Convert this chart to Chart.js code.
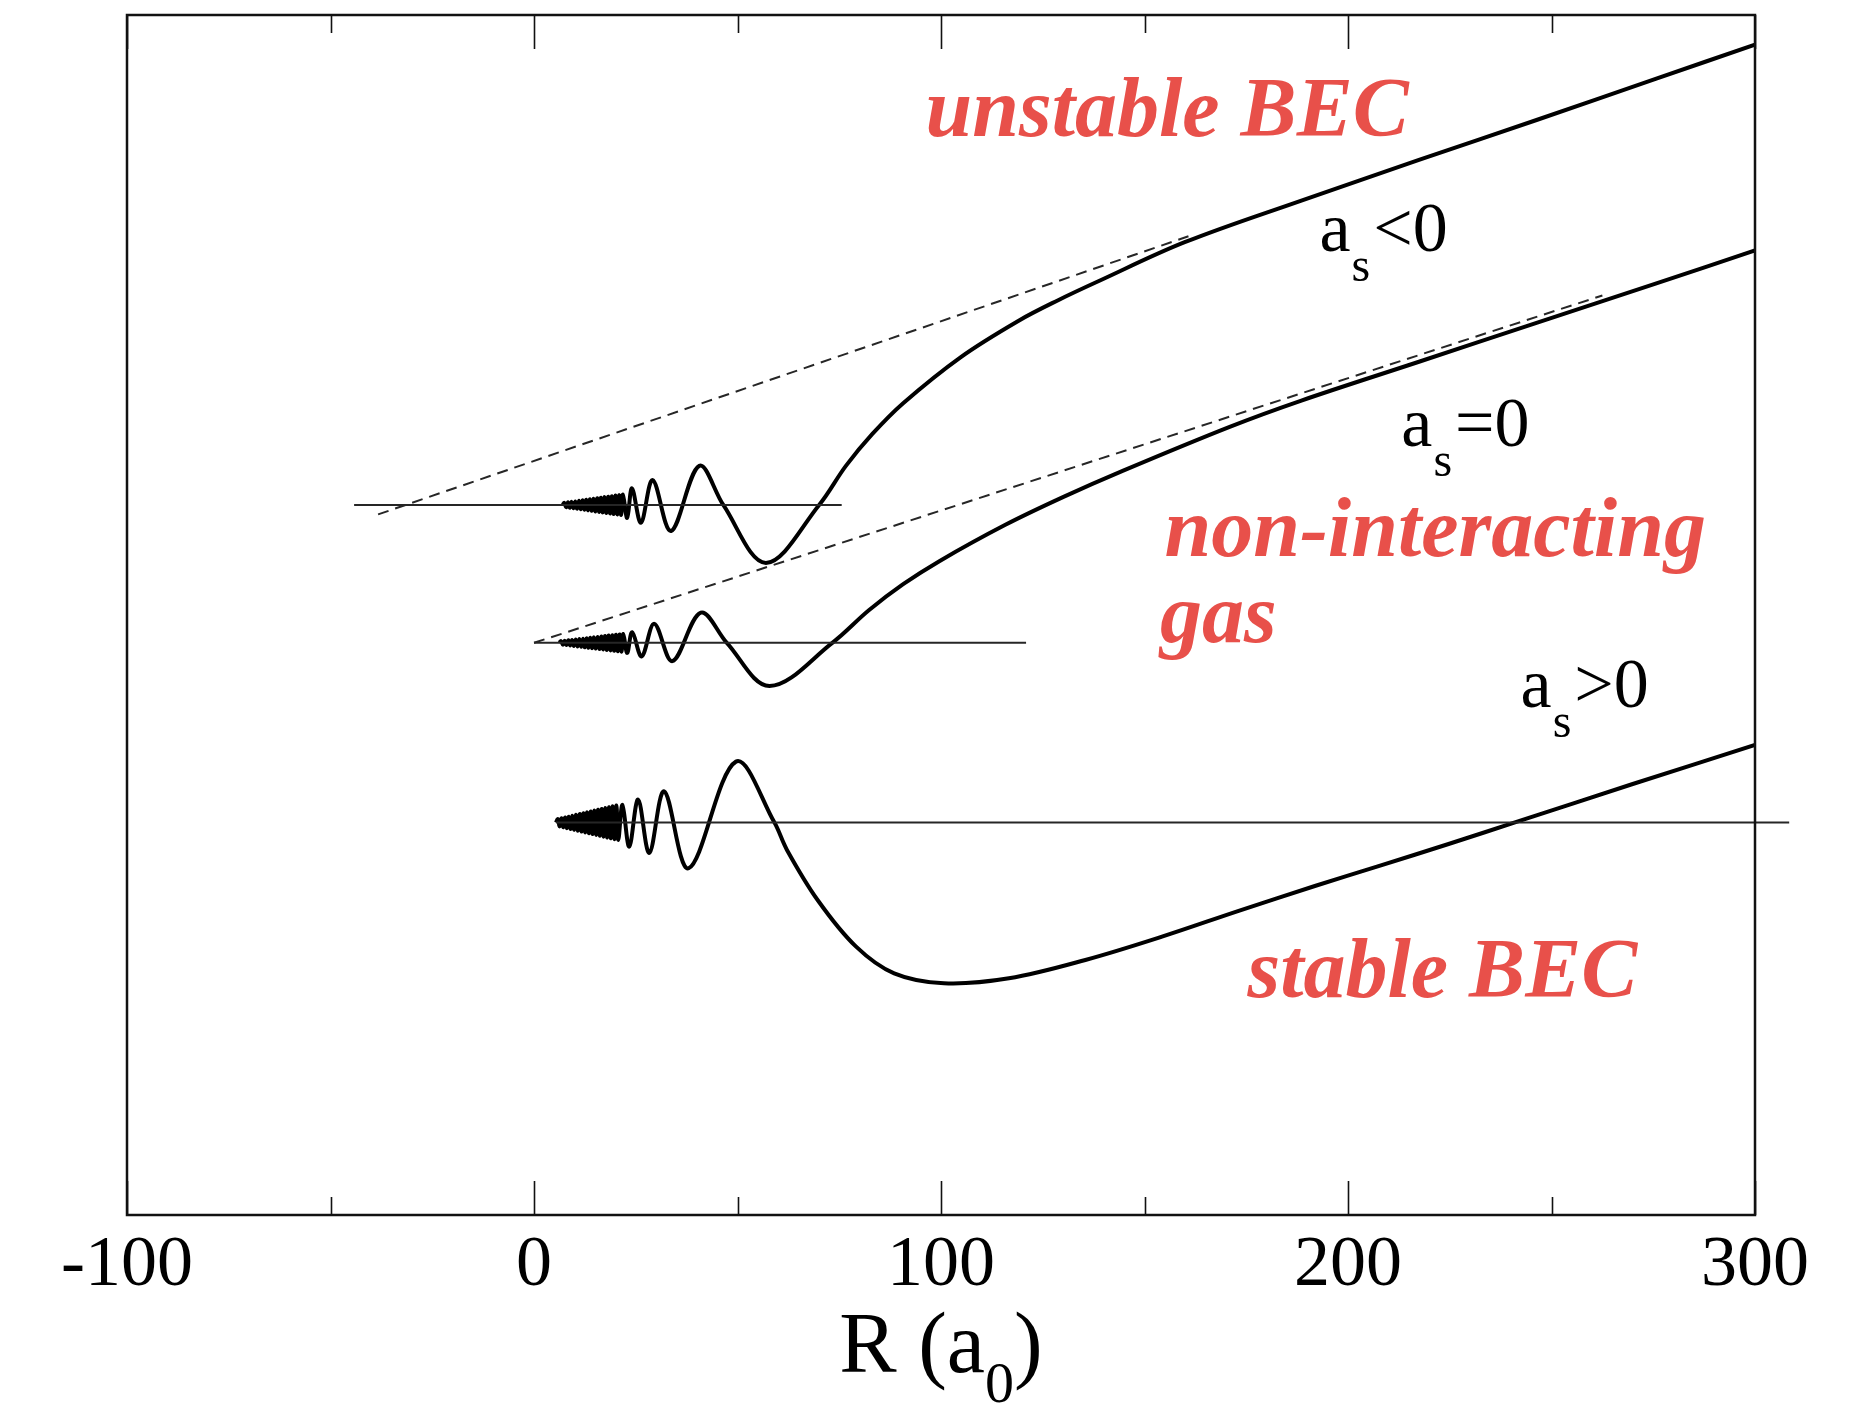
<!DOCTYPE html>
<html>
<head>
<meta charset="utf-8">
<script src="https://cdn.jsdelivr.net/npm/chart.js@4.4.0/dist/chart.umd.min.js"></script>
<style>
  html, body { margin: 0; padding: 0; background: #fff; }
  #wrap { width: 1855px; height: 1407px; }
</style>
</head>
<body>
<div id="wrap"><canvas id="chart" width="1855" height="1407"></canvas></div>
<script>
// x = R in units of a0; y has no ticks in the figure, so it is an arbitrary offset scale
const xTickValues = [-100, 0, 100, 200, 300];

// a_s < 0 (unstable BEC)
const rUnstable = [7.00, 7.45, 7.90, 8.35, 8.80, 9.25, 9.70, 10.15, 10.60, 11.05, 11.50, 11.95, 12.40, 12.85, 13.30, 13.75, 14.20,
  14.65, 15.10, 15.55, 16.00, 16.45, 16.90, 17.35, 17.80, 18.25, 18.70, 19.15, 19.60, 20.05, 20.50, 20.95, 21.40, 21.85,
  22.90, 24.07, 26.28, 29.16, 33.66, 40.61, 46.51, 56.98, 70.06, 76.63, 83.14, 90.70, 104.88, 118.98, 128.78, 138.66, 159.88,
  188.37, 217.44, 246.51, 275.58, 300];
const vUnstable = [60.0, 60.17, 59.81, 60.22, 59.76, 60.26, 59.72, 60.30, 59.67, 60.35, 59.63, 60.39, 59.59, 60.44, 59.54, 60.48, 59.50,
  60.52, 59.45, 60.57, 59.41, 60.61, 59.37, 60.66, 59.32, 60.70, 59.28, 60.74, 59.23, 60.79, 59.19, 60.83, 59.15, 60.88,
  58.9, 61.4, 58.5, 62.1, 57.8, 63.3, 60.0, 55.1, 60.0, 63.3, 66.0, 68.6, 72.5, 75.55, 77.3, 78.9, 82.2,
  85.7, 89.15, 92.55, 96.0, 98.9];
const rUnstableBase = [-44.2, 75.6];
const vUnstableBase = [60.0, 60.0];
const rUnstableAsym = [-38.3, 160.8];
const vUnstableAsym = [59.2, 82.7];

// a_s = 0 (non-interacting gas)
const rFree = [6.20, 6.65, 7.10, 7.55, 8.00, 8.45, 8.90, 9.35, 9.80, 10.25, 10.70, 11.15, 11.60, 12.05, 12.50, 12.95, 13.40, 13.85,
  14.30, 14.75, 15.20, 15.65, 16.10, 16.55, 17.00, 17.45, 17.90, 18.35, 18.80, 19.25, 19.70, 20.15, 20.60, 21.05, 21.50, 21.95,
  22.90, 24.13, 26.45, 29.56, 34.01, 40.99, 47.38, 57.85, 73.37, 82.27, 90.70, 99.59, 115.70, 130.23, 144.77, 170.93,
  188.37, 217.44, 246.51, 275.58, 300];
const vFree = [48.35, 48.49, 48.19, 48.52, 48.16, 48.56, 48.12, 48.59, 48.08, 48.63, 48.04, 48.67, 48.01, 48.70, 47.97, 48.74, 47.93, 48.77,
  47.90, 48.81, 47.86, 48.85, 47.82, 48.88, 47.79, 48.92, 47.75, 48.96, 47.71, 48.99, 47.68, 49.03, 47.64, 49.06, 47.60, 49.10,
  47.5, 49.25, 47.2, 49.95, 46.8, 50.9, 48.35, 44.7, 48.37, 51.1, 53.3, 55.25, 58.3, 60.7, 62.9, 66.6,
  68.8, 72.1, 75.4, 78.7, 81.5];
const rFreeBase = [0, 120.9];
const vFreeBase = [48.35, 48.35];
const rFreeAsym = [0, 262.5];
const vFreeAsym = [48.35, 77.7];

// a_s > 0 (stable BEC)
const rStable = [5.41, 5.86, 6.31, 6.76, 7.21, 7.66, 8.11, 8.56, 9.01, 9.46, 9.91, 10.36, 10.81, 11.26, 11.71, 12.16, 12.61, 13.06,
  13.51, 13.96, 14.41, 14.86, 15.31, 15.76, 16.21, 16.66, 17.11, 17.56, 18.01, 18.46, 18.91, 19.36, 19.81, 20.26, 20.71,
  21.74, 23.40, 25.58, 28.34, 31.98, 37.99, 49.62, 59.01, 62.15, 69.68, 79.07, 88.49, 100.73, 116.69, 135.47, 154.30, 173.14,
  191.86, 207.70, 224.71, 242.15, 269.77, 300];
const vStable = [33.16, 33.45, 32.84, 33.52, 32.77, 33.59, 32.69, 33.66, 32.62, 33.73, 32.55, 33.81, 32.48, 33.88, 32.41, 33.95, 32.33, 34.02,
  32.26, 34.09, 32.19, 34.17, 32.12, 34.24, 32.05, 34.31, 31.97, 34.38, 31.90, 34.45, 31.83, 34.53, 31.76, 34.60, 31.69,
  34.65, 31.13, 35.1, 30.6, 35.8, 29.3, 38.31, 33.2, 30.85, 26.62, 22.7, 20.42, 19.58, 20.0, 21.55, 23.52, 25.7,
  27.8, 29.5, 31.35, 33.3, 36.4, 39.72];
const rStableBase = [5.41, 308.4];
const vStableBase = [33.16, 33.16];

const serif = '"Liberation Serif", "Times New Roman", serif';
const red = '#e8504a';

// annotations, anchored in data coordinates (left edge, baseline)
const redLabels = [
  { text: 'unstable BEC', r: 96.2, v: 91.2 },
  { text: 'non-interacting', r: 154.9, v: 55.7 },
  { text: 'gas', r: 153.8, v: 48.4 },
  { text: 'stable BEC', r: 175.3, v: 18.4 },
];
const scatLabels = [
  { rel: '<0', r: 193.0, v: 81.5 },
  { rel: '=0', r: 213.1, v: 65.0 },
  { rel: '>0', r: 242.4, v: 42.9 },
];

const pts = (xs, ys) => xs.map((x, i) => ({ x, y: ys[i] }));

const solid = (data) => ({
  data, borderColor: '#000', borderWidth: 4, pointRadius: 0, showLine: true, tension: 0.35,
});
const thin = (data, extra) => Object.assign({
  data, borderColor: '#262626', borderWidth: 1.9, pointRadius: 0, showLine: true,
}, extra || {});

const decorations = {
  id: 'decorations',
  afterDraw(chart) {
    const { ctx, chartArea: a, scales: { x, y } } = chart;
    ctx.save();
    ctx.strokeStyle = '#111';
    ctx.lineWidth = 2.5;
    ctx.strokeRect(a.left, a.top, a.right - a.left, a.bottom - a.top);

    // inward tick marks on bottom and top: long at labelled values, short in between
    ctx.lineWidth = 1.6;
    x.ticks.forEach((t) => {
      const px = Math.round(x.getPixelForValue(t.value)) + 0.5;
      const len = t.value % 100 === 0 ? 34 : 18;
      ctx.beginPath();
      ctx.moveTo(px, a.bottom); ctx.lineTo(px, a.bottom - len);
      ctx.moveTo(px, a.top); ctx.lineTo(px, a.top + len);
      ctx.stroke();
    });

    ctx.textAlign = 'left';
    ctx.textBaseline = 'alphabetic';
    ctx.fillStyle = red;
    ctx.font = 'italic bold 84px ' + serif;
    redLabels.forEach((l) => {
      ctx.fillText(l.text, x.getPixelForValue(l.r), y.getPixelForValue(l.v));
    });

    ctx.fillStyle = '#000';
    scatLabels.forEach((l) => {
      let px = x.getPixelForValue(l.r);
      const py = y.getPixelForValue(l.v);
      ctx.font = '70px ' + serif;
      ctx.fillText('a', px, py);
      px += ctx.measureText('a').width;
      ctx.font = '48px ' + serif;
      ctx.fillText('s', px + 1, py + 30);
      px += ctx.measureText('s').width + 4;
      ctx.font = '70px ' + serif;
      ctx.fillText(l.rel, px, py);
    });

    // axis title R (a0) with subscript
    const cx = (a.left + a.right) / 2;
    const by = 1372;
    ctx.font = '86px ' + serif;
    const w1 = ctx.measureText('R (a').width;
    const w3 = ctx.measureText(')').width;
    ctx.font = '58px ' + serif;
    const w2 = ctx.measureText('0').width;
    let sx = cx - (w1 + w2 + w3) / 2;
    ctx.font = '86px ' + serif;
    ctx.fillText('R (a', sx, by);
    sx += w1;
    ctx.font = '58px ' + serif;
    ctx.fillText('0', sx, by + 30);
    sx += w2;
    ctx.font = '86px ' + serif;
    ctx.fillText(')', sx, by);
    ctx.restore();
  },
};

new Chart(document.getElementById('chart'), {
  type: 'scatter',
  data: {
    datasets: [
      thin(pts(rUnstableBase, vUnstableBase)),
      thin(pts(rFreeBase, vFreeBase)),
      thin(pts(rStableBase, vStableBase), { clip: false }),
      thin(pts(rUnstableAsym, vUnstableAsym), { borderDash: [11, 7], borderWidth: 2 }),
      thin(pts(rFreeAsym, vFreeAsym), { borderDash: [11, 7], borderWidth: 2 }),
      solid(pts(rUnstable, vUnstable)),
      solid(pts(rFree, vFree)),
      solid(pts(rStable, vStable)),
    ],
  },
  options: {
    responsive: false,
    animation: false,
    devicePixelRatio: 1,
    layout: { padding: { left: 127, right: 100, top: 15, bottom: 0 } },
    plugins: { legend: { display: false }, tooltip: { enabled: false } },
    scales: {
      x: {
        type: 'linear', min: -100, max: 300, position: 'bottom',
        afterBuildTicks: (s) => {
          s.ticks = [];
          xTickValues.forEach((v, i) => {
            s.ticks.push({ value: v });
            if (i < xTickValues.length - 1) s.ticks.push({ value: (v + xTickValues[i + 1]) / 2 });
          });
        },
        ticks: {
          autoSkip: false, maxRotation: 0, padding: 8, color: '#000',
          font: { family: serif, size: 72 },
          callback: (v) => (v % 100 === 0 ? String(v) : ''),
        },
        grid: { display: false, drawTicks: false },
        border: { display: false },
        afterFit: (s) => { s.height = 192; },
      },
      y: { display: false, min: 0, max: 101.4 },
    },
  },
  plugins: [decorations],
});
</script>
</body>
</html>
